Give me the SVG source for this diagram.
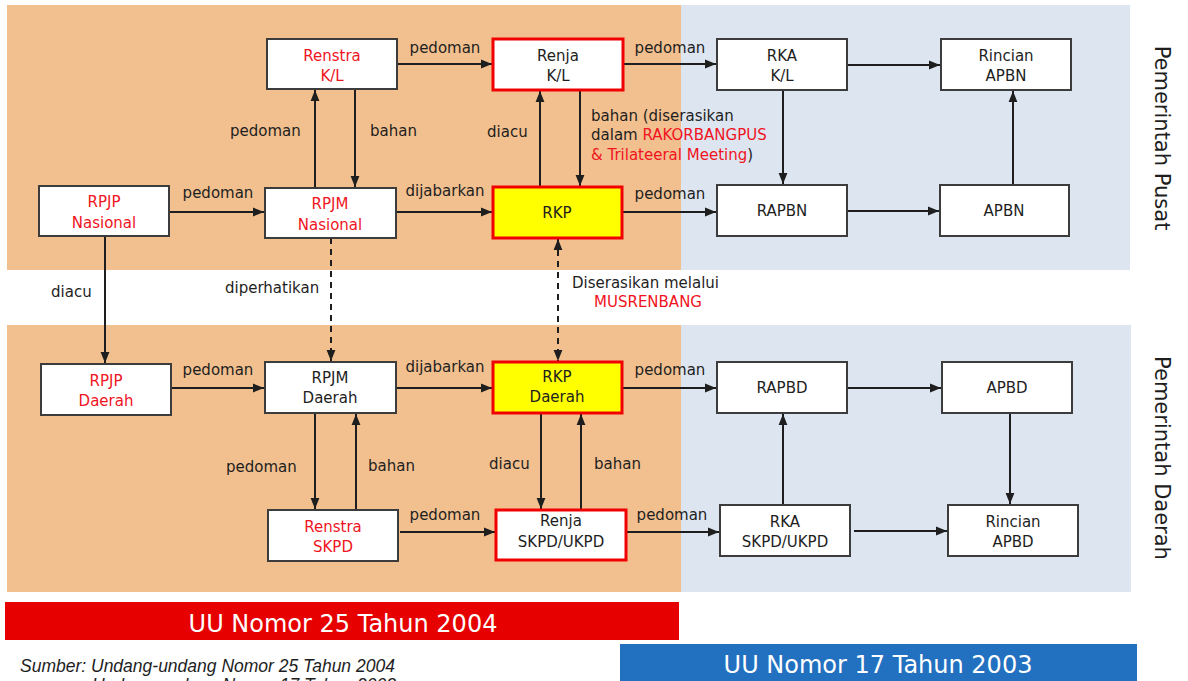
<svg xmlns="http://www.w3.org/2000/svg" width="1188" height="681" viewBox="0 0 1188 681">
<style>
.t{font-family:"DejaVu Sans",sans-serif;font-size:15px;fill:#1e1e1e}
.c{text-anchor:middle}
.r{fill:#f0141e}
.box{fill:#fff;stroke:#3c3c3c;stroke-width:2}
.rbox{fill:#fff;stroke:#f00000;stroke-width:3}
.ybox{fill:#ffff00;stroke:#f00000;stroke-width:3}
.ln{stroke:#1e1e1e;stroke-width:2;fill:none}
.dash{stroke-dasharray:6,5}
.big{font-family:"DejaVu Sans",sans-serif;font-size:24px;fill:#fff;text-anchor:middle}
.side{font-family:"DejaVu Sans",sans-serif;font-size:21px;fill:#1e1e1e;text-anchor:middle}
.src{font-family:"Liberation Sans",Arial,sans-serif;font-size:17.5px;font-style:italic;fill:#1e1e1e}
</style>
<defs>
<marker id="ah" viewBox="0 0 10 10" refX="10" refY="5" markerWidth="11" markerHeight="11" markerUnits="userSpaceOnUse" orient="auto-start-reverse">
<path d="M0,1 L10,5 L0,9 z" fill="#1e1e1e"/>
</marker>
</defs>
<rect width="1188" height="681" fill="#fff"/>
<g id="bands">
<rect x="7" y="5" width="674" height="265" fill="#f2c08f"/>
<rect x="681" y="5" width="449" height="265" fill="#dde5f1"/>
<rect x="7" y="325" width="674" height="267" fill="#f2c08f"/>
<rect x="681" y="325" width="450" height="267" fill="#dde5f1"/>
</g>
<g id="connectors">
<line class="ln" x1="397" y1="64" x2="492" y2="64" marker-end="url(#ah)"/>
<line class="ln" x1="623" y1="64" x2="716" y2="64" marker-end="url(#ah)"/>
<line class="ln" x1="847" y1="65" x2="940" y2="65" marker-end="url(#ah)"/>
<line class="ln" x1="315" y1="188" x2="315" y2="90" marker-end="url(#ah)"/>
<line class="ln" x1="355" y1="89" x2="355" y2="187" marker-end="url(#ah)"/>
<line class="ln" x1="169" y1="212" x2="264" y2="212" marker-end="url(#ah)"/>
<line class="ln" x1="396" y1="212" x2="492" y2="212" marker-end="url(#ah)"/>
<line class="ln" x1="540" y1="187" x2="540" y2="91" marker-end="url(#ah)"/>
<line class="ln" x1="580" y1="90" x2="580" y2="186" marker-end="url(#ah)"/>
<line class="ln" x1="622" y1="212" x2="716" y2="212" marker-end="url(#ah)"/>
<line class="ln" x1="783" y1="90" x2="783" y2="184" marker-end="url(#ah)"/>
<line class="ln" x1="847" y1="211" x2="939" y2="211" marker-end="url(#ah)"/>
<line class="ln" x1="1013" y1="185" x2="1013" y2="91" marker-end="url(#ah)"/>
<line class="ln" x1="105" y1="236" x2="105" y2="363" marker-end="url(#ah)"/>
<line class="ln dash" x1="331" y1="238" x2="331" y2="361" marker-end="url(#ah)"/>
<line class="ln dash" x1="558" y1="239" x2="558" y2="361" marker-start="url(#ah)" marker-end="url(#ah)"/>
<line class="ln" x1="171" y1="388" x2="264" y2="388" marker-end="url(#ah)"/>
<line class="ln" x1="396" y1="388" x2="492" y2="388" marker-end="url(#ah)"/>
<line class="ln" x1="622" y1="388" x2="716" y2="388" marker-end="url(#ah)"/>
<line class="ln" x1="847" y1="388" x2="941" y2="388" marker-end="url(#ah)"/>
<line class="ln" x1="1010" y1="413" x2="1010" y2="504" marker-end="url(#ah)"/>
<line class="ln" x1="783" y1="505" x2="783" y2="414" marker-end="url(#ah)"/>
<line class="ln" x1="854" y1="531" x2="947" y2="531" marker-end="url(#ah)"/>
<line class="ln" x1="315" y1="413" x2="315" y2="509" marker-end="url(#ah)"/>
<line class="ln" x1="356" y1="510" x2="356" y2="414" marker-end="url(#ah)"/>
<line class="ln" x1="541" y1="413" x2="541" y2="509" marker-end="url(#ah)"/>
<line class="ln" x1="581" y1="510" x2="581" y2="414" marker-end="url(#ah)"/>
<line class="ln" x1="400" y1="532" x2="495" y2="532" marker-end="url(#ah)"/>
<line class="ln" x1="627" y1="532" x2="719" y2="532" marker-end="url(#ah)"/>
</g>
<g id="labels">
<text class="t c" x="445" y="53">pedoman</text>
<text class="t c" x="670" y="53">pedoman</text>
<text class="t" x="230" y="136">pedoman</text>
<text class="t" x="370" y="136">bahan</text>
<text class="t c" x="218" y="198">pedoman</text>
<text class="t c" x="445" y="196">dijabarkan</text>
<text class="t" x="487" y="137">diacu</text>
<text class="t" x="591" y="121">bahan (diserasikan</text>
<text class="t" x="591" y="140">dalam <tspan class="r">RAKORBANGPUS</tspan></text>
<text class="t" x="591" y="160"><tspan class="r">&amp; Trilateeral Meeting</tspan>)</text>
<text class="t c" x="670" y="199">pedoman</text>
<text class="t" x="51" y="297">diacu</text>
<text class="t" x="225" y="293">diperhatikan</text>
<text class="t" x="572" y="288">Diserasikan melalui</text>
<text class="t r c" x="648" y="307">MUSRENBANG</text>
<text class="t c" x="218" y="375">pedoman</text>
<text class="t c" x="445" y="372">dijabarkan</text>
<text class="t c" x="670" y="375">pedoman</text>
<text class="t" x="226" y="472">pedoman</text>
<text class="t" x="368" y="471">bahan</text>
<text class="t" x="489" y="469">diacu</text>
<text class="t" x="594" y="469">bahan</text>
<text class="t c" x="445" y="520">pedoman</text>
<text class="t c" x="672" y="520">pedoman</text>
</g>
<g id="n-renstra-kl"><rect class="box" x="267" y="39" width="130" height="50"/><text class="t c r" x="332" y="61">Renstra</text><text class="t c r" x="332" y="81">K/L</text></g>
<g id="n-renja-kl"><rect class="rbox" x="493" y="39" width="130" height="51"/><text class="t c" x="558" y="61">Renja</text><text class="t c" x="558" y="81">K/L</text></g>
<g id="n-rka-kl"><rect class="box" x="717" y="39" width="130" height="51"/><text class="t c" x="782" y="61">RKA</text><text class="t c" x="782" y="81">K/L</text></g>
<g id="n-rincian-apbn"><rect class="box" x="941" y="39" width="130" height="51"/><text class="t c" x="1006" y="61">Rincian</text><text class="t c" x="1006" y="81">APBN</text></g>
<g id="n-rpjp-nasional"><rect class="box" x="39" y="186" width="130" height="50"/><text class="t c r" x="104" y="207">RPJP</text><text class="t c r" x="104" y="228">Nasional</text></g>
<g id="n-rpjm-nasional"><rect class="box" x="265" y="188" width="131" height="50"/><text class="t c r" x="330" y="209">RPJM</text><text class="t c r" x="330" y="230">Nasional</text></g>
<g id="n-rkp"><rect class="ybox" x="493" y="187" width="129" height="51"/><text class="t c" x="557" y="218">RKP</text></g>
<g id="n-rapbn"><rect class="box" x="717" y="185" width="130" height="51"/><text class="t c" x="782" y="216">RAPBN</text></g>
<g id="n-apbn"><rect class="box" x="940" y="185" width="129" height="51"/><text class="t c" x="1004" y="216">APBN</text></g>
<g id="n-rpjp-daerah"><rect class="box" x="41" y="364" width="130" height="51"/><text class="t c r" x="106" y="386">RPJP</text><text class="t c r" x="106" y="406">Daerah</text></g>
<g id="n-rpjm-daerah"><rect class="box" x="265" y="362" width="131" height="51"/><text class="t c" x="330" y="383">RPJM</text><text class="t c" x="330" y="403">Daerah</text></g>
<g id="n-rkp-daerah"><rect class="ybox" x="493" y="362" width="129" height="51"/><text class="t c" x="557" y="382">RKP</text><text class="t c" x="557" y="402">Daerah</text></g>
<g id="n-rapbd"><rect class="box" x="717" y="362" width="130" height="51"/><text class="t c" x="782" y="393">RAPBD</text></g>
<g id="n-apbd"><rect class="box" x="942" y="362" width="130" height="51"/><text class="t c" x="1007" y="393">APBD</text></g>
<g id="n-renstra-skpd"><rect class="box" x="268" y="510" width="130" height="51"/><text class="t c r" x="333" y="532">Renstra</text><text class="t c r" x="333" y="552">SKPD</text></g>
<g id="n-renja-skpd"><rect class="rbox" x="496" y="510" width="130" height="50"/><text class="t c" x="561" y="526">Renja</text><text class="t c" x="561" y="547">SKPD/UKPD</text></g>
<g id="n-rka-skpd"><rect class="box" x="720" y="505" width="130" height="51"/><text class="t c" x="785" y="527">RKA</text><text class="t c" x="785" y="547">SKPD/UKPD</text></g>
<g id="n-rincian-apbd"><rect class="box" x="948" y="505" width="130" height="51"/><text class="t c" x="1013" y="527">Rincian</text><text class="t c" x="1013" y="547">APBD</text></g>
<g id="side-labels">
<text class="side" transform="translate(1155,138) rotate(90)">Pemerintah Pusat</text>
<text class="side" transform="translate(1155,458) rotate(90)">Pemerintah Daerah</text>
</g>
<g id="footer">
<rect x="5" y="602" width="674" height="38" fill="#e60000"/>
<text class="big" x="343" y="632">UU Nomor 25 Tahun 2004</text>
<rect x="620" y="644" width="517" height="40" fill="#2270c0"/>
<text class="big" x="878" y="673">UU Nomor 17 Tahun 2003</text>
<text class="src" x="20" y="672">Sumber:  Undang-undang Nomor 25 Tahun 2004</text>
<text class="src" x="92" y="691">Undang-undang Nomor 17 Tahun 2003</text>
</g>
</svg>
